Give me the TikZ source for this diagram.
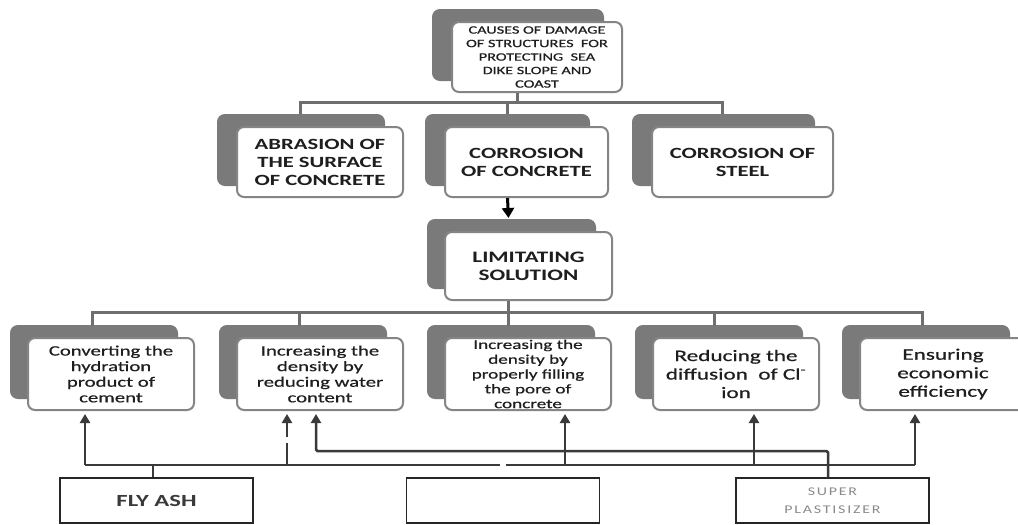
\documentclass[tikz,border=0pt]{standalone}
\usepackage{fontspec}
\setmainfont{Carlito}
\newfontfamily\cst[FakeStretch=1.45]{Carlito}
\newfontfamily\cstb[FakeStretch=1.45,FakeBold=0.6]{Carlito}
\newfontfamily\csp[FakeStretch=1.35,LetterSpace=15]{Carlito}
\usetikzlibrary{shadows,arrows.meta,calc}
\definecolor{shadowgray}{HTML}{7A7A7A}
\definecolor{boxgray}{HTML}{858585}
\definecolor{busgray}{HTML}{6E6E6E}
\definecolor{dkgray}{HTML}{3A3A3A}
\definecolor{txt}{HTML}{1E1E1E}
\definecolor{lighttxt}{HTML}{8A8A8A}
\tikzset{
  card/.style={draw=boxgray, line width=2pt, fill=white, rounded corners=7pt,
    align=center, inner sep=0pt, text=txt,
    copy shadow={shadow xshift=#1, shadow yshift=12pt, fill=shadowgray, draw=shadowgray}},
  card/.default={-18pt},
  plainbox/.style={draw=black!85, line width=1.5pt, fill=white, align=center,
    minimum width=193pt, minimum height=45pt, inner sep=0pt},
  bus/.style={draw=busgray, line width=3pt},
  dk/.style={draw=dkgray, line width=2.5pt, rounded corners=1.5pt},
  arr/.style={dk, -{Triangle[width=10pt,length=9pt]}},
  blackarr/.style={draw=black, line width=3pt, -{Triangle[width=12pt,length=10pt]}},
  topf/.style={font=\cstb\fontsize{11.2}{13.5}\selectfont},
  ltwo/.style={font=\cst\bfseries\fontsize{15.6}{18}\selectfont},
  lthree/.style={font=\cstb\fontsize{14.3}{15.6}\selectfont},
  lthrees/.style={font=\cstb\fontsize{13.2}{14.8}\selectfont},
  lthreeb/.style={font=\cstb\fontsize{16}{18.5}\selectfont},
}
\begin{document}
\begin{tikzpicture}[x=1pt,y=-1pt]
\fill[white] (0,0) rectangle (1018,525);
\clip (0,0) rectangle (1018,525);

% top
\node[card=-19pt, topf, minimum width=170pt, minimum height=70pt] (top) at (537,57)
  {CAUSES OF DAMAGE\\OF STRUCTURES\ \ FOR\\PROTECTING\ \ SEA\\DIKE SLOPE AND\\COAST};

% level 2
\node[card=-19pt, ltwo, minimum width=166pt, minimum height=70pt] (abr) at (320,162)
  {ABRASION OF\\THE SURFACE\\OF CONCRETE};
\node[card=-19pt, ltwo, minimum width=163pt, minimum height=70pt] (con) at (526.5,162)
  {CORROSION\\OF CONCRETE};
\node[card=-19pt, ltwo, minimum width=181pt, minimum height=70pt] (stl) at (742.5,162)
  {CORROSION OF\\STEEL};

% limitating
\node[card=-17pt, ltwo, font=\cst\bfseries\fontsize{16}{18}\selectfont, minimum width=167pt, minimum height=68pt] (lim) at (528.5,266)
  {LIMITATING\\SOLUTION};

% level 3
\begin{scope}[every node/.append style={minimum width=166pt, minimum height=72pt}]
\node[card=-17pt, lthree] (c1) at (111,374) {Converting the\\hydration\\product of\\cement};
\node[card=-17pt, lthree] (c2) at (320,374) {Increasing the\\density by\\reducing water\\content};
\node[card=-17pt, lthrees] (c3) at (528,374) {Increasing the\\density by\\properly filling\\the pore of\\concrete};
\node[card=-17pt, lthreeb] (c4) at (736,374) {Reducing the\\diffusion\ \ of Cl\textsuperscript{-}\\ion};
\node[card=-17pt, lthreeb] (c5) at (943,374) {Ensuring\\economic\\efficiency};
\end{scope}

% bottom boxes
\node[plainbox, font=\cst\bfseries\fontsize{17}{20}\selectfont, text=dkgray] (fly) at (156.5,500.5) {FLY ASH};
\node[plainbox] (mid) at (503,500.5) {};
\node[plainbox, font=\csp\fontsize{11.8}{18}\selectfont, text=lighttxt] (sup) at (832.5,500.5) {SUPER\\PLASTISIZER};

% top bus
\draw[bus] ([xshift=-20pt]top.south) -- ++(0,11);
\draw[bus] ([xshift=-20pt,yshift=12pt]abr.north) -- ++(0,-12) -| ([xshift=-20pt,yshift=12pt]stl.north);
\draw[bus] ([xshift=-19pt,yshift=12pt]con.north) -- ++(0,-12);

% arrow to limitating
\draw[blackarr] ([xshift=-19pt]con.south) -- ([xshift=-20pt,yshift=13pt]lim.north);

% level 3 bus
\draw[bus] ([xshift=-20pt]lim.south) -- ++(0,13);
\draw[bus] ([xshift=-19pt,yshift=11pt]c1.north) -- ++(0,-14) -| ([xshift=-21pt,yshift=11pt]c5.north);
\draw[bus] ([xshift=-21pt,yshift=11pt]c2.north) -- ++(0,-14);
\draw[bus] ([xshift=-20pt,yshift=11pt]c3.north) -- ++(0,-14);
\draw[bus] ([xshift=-22pt,yshift=11pt]c4.north) -- ++(0,-14);

% bottom connectors
\coordinate (j1) at (85,465);
\coordinate (j2) at (287,465);
\coordinate (jg1) at (500,465);
\coordinate (jg2) at (506,465);
\coordinate (j3) at (565,465);
\coordinate (j4) at (754,465);
\coordinate (j5) at (915,465);
\coordinate (k1) at (316,451);

\draw[dk] ([xshift=-3.5pt]fly.north) -- ++(0,-13);
\draw[dk] (j1) -- (jg1);
\draw[dk] (jg2) -- (j5);
\draw[arr] (j1) -- ([yshift=-3pt]c1.south -| j1);
\draw[dk] (j2) -- ++(0,-22);
\draw[arr] ($(j2)+(0,-28)$) -- ([yshift=-3pt]c2.south -| j2);
\draw[arr] (j3) -- ([yshift=-3pt]c3.south -| j3);
\draw[arr] (j4) -- ([yshift=-3pt]c4.south -| j4);
\draw[arr] (j5) -- ([yshift=-3pt]c5.south -| j5);
\draw[arr] ([xshift=-4.5pt]sup.north) |- (k1) -- ([yshift=-3pt]c2.south -| k1);
\end{tikzpicture}
\end{document}
